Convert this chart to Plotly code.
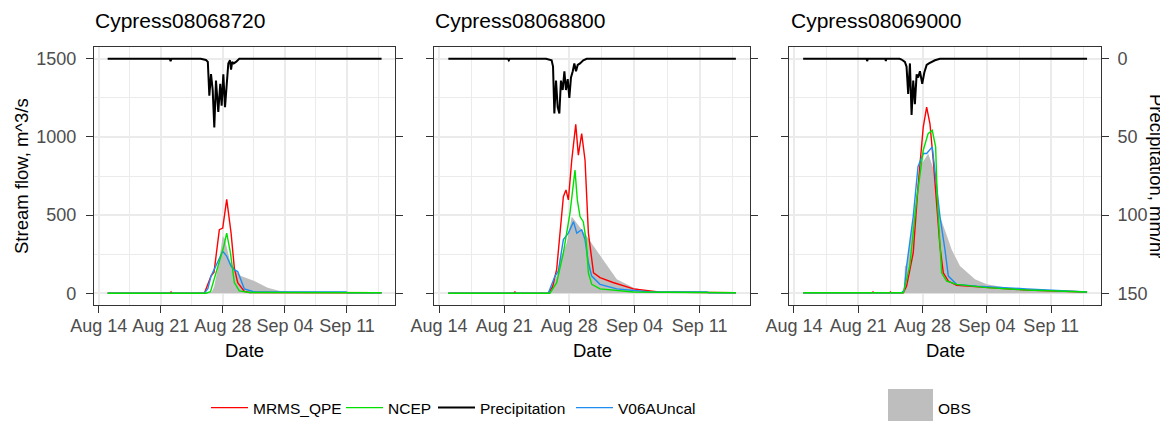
import pandas as pd
import plotly.graph_objects as go

# ---------------- data (days after 2017-08-14 00:00) ----------------
stations = ["Cypress08068720", "Cypress08068800", "Cypress08069000"]
x_tick_dates = ["2017-08-14", "2017-08-21", "2017-08-28", "2017-09-04", "2017-09-11"]
flow_ticks = [0, 500, 1000, 1500]
precip_ticks = [0, 50, 100, 150]

# --- Cypress08068720
obs1_day = [1.0, 12.0, 12.47, 12.75, 13.0, 13.5, 13.83, 13.98, 14.2, 14.42, 14.83, 15.5, 16.04, 17.55, 19.05, 20.55, 22.0, 31.9]
obs1_val = [1, 1, 3, 10, 40, 180, 310, 364, 350, 300, 200, 140, 110, 78, 36, 13, 5, 3]
mrms1_day = [1.0, 8.05, 8.15, 8.25, 11.91, 12.66, 13.0, 13.6, 13.98, 14.43, 14.92, 15.29, 15.67, 16.42, 17.0, 31.9]
mrms1_val = [0, 0, 8, 0, 0, 110, 135, 407, 417, 601, 387, 163, 68, 12, 5, 3]
ncep1_day = [1.0, 12.1, 12.6, 13.03, 13.4, 13.78, 14.1, 14.43, 14.85, 15.29, 15.85, 17.0, 31.9]
ncep1_val = [0, 0, 10, 89, 170, 237, 300, 385, 258, 68, 15, 5, 3]
v06a1_day = [1.0, 11.9, 12.3, 12.66, 13.2, 13.6, 13.98, 14.4, 14.92, 15.3, 15.67, 16.42, 17.55, 27.9, 28.1, 31.9]
v06a1_val = [0, 0, 30, 110, 174, 220, 269, 240, 174, 150, 139, 28, 8, 8, 3, 3]
prcp1_day = [1.0, 8.0, 8.1, 8.2, 11.5, 11.72, 12.09, 12.3, 12.47, 12.66, 12.85, 13.03, 13.22, 13.48, 13.7,
             13.86, 14.05, 14.24, 14.43, 14.61, 14.8, 14.92, 15.05, 15.22, 15.48, 15.85, 31.9]
prcp1_val = [0, 0, 1.5, 0, 0, 0.3, 0.8, 2, 23.6, 9.8, 20, 44, 14, 34, 16,
             30, 10, 31, 14, 3, 1, 7, 2, 3, 2, 0, 0]

# --- Cypress08068800
obs2_day = [1.0, 11.74, 12.64, 13.0, 13.72, 14.26, 15.87, 17.66, 19.1, 20.9, 23.0, 31.9]
obs2_val = [2, 2, 110, 216, 322, 491, 364, 216, 89, 36, 8, 3]
mrms2_day = [1.0, 8.05, 8.15, 8.25, 11.74, 12.2, 12.64, 13.0, 13.36, 13.64, 13.9, 14.26, 14.69, 14.97,
             15.33, 15.69, 16.05, 16.6, 17.3, 18.7, 20.9, 23.6, 31.9]
mrms2_val = [0, 0, 11, 0, 0, 40, 152, 400, 618, 661, 597, 851, 1080, 883,
             1021, 851, 385, 131, 100, 69, 28, 8, 3]
ncep2_day = [1.0, 11.92, 12.64, 13.36, 14.07, 14.36, 14.61, 14.86, 15.15, 15.5, 15.8, 16.05, 16.41, 17.3, 20.9, 31.9]
ncep2_val = [0, 0, 68, 258, 512, 682, 788, 597, 491, 458, 343, 131, 57, 28, 8, 3]
v06a2_day = [1.0, 11.74, 12.46, 12.82, 13.36, 13.9, 14.45, 14.8, 15.33, 15.69, 16.05, 16.41, 17.3, 19.1, 22.7, 28.8, 29.0, 31.9]
v06a2_val = [0, 0, 110, 142, 343, 385, 458, 385, 406, 343, 195, 110, 57, 28, 8, 8, 3, 3]
prcp2_day = [1.0, 7.4, 7.5, 7.6, 11.5, 11.74, 12.1, 12.25, 12.39, 12.57, 12.75, 12.93, 13.1, 13.29, 13.47,
             13.64, 13.83, 14.0, 14.18, 14.37, 14.54, 14.72, 14.9, 15.15, 15.5, 15.87, 31.9]
prcp2_val = [0, 0, 1, 0, 0, 0.5, 1, 5, 35, 14, 31, 35, 14, 20, 8,
             20, 13, 25, 12, 8, 3, 8, 4, 3, 1, 0, 0]

# --- Cypress08069000
obs3_day = [1.0, 11.89, 12.0, 12.07, 12.26, 12.62, 12.98, 13.71, 14.61, 15.34, 15.89, 16.54, 17.16, 18.07,
            19.7, 20.98, 23.2, 27.0, 31.9]
obs3_val = [3, 3, 40, 174, 180, 322, 470, 809, 894, 767, 491, 385, 280, 174,
            89, 57, 36, 20, 8]
mrms3_day = [1.0, 8.5, 8.6, 8.7, 10.4, 10.5, 10.6, 11.9, 12.26, 12.98, 13.5, 14.07, 14.44, 14.8, 15.16,
             15.53, 15.89, 16.25, 16.8, 17.7, 20.98, 25.3, 31.9]
mrms3_val = [3, 3, 8, 3, 3, 8, 3, 3, 46, 258, 682, 1063, 1190, 1084, 851,
             597, 300, 131, 78, 51, 36, 21, 8]
ncep3_day = [1.0, 11.9, 12.6, 13.35, 14.07, 14.6, 15.05, 15.42, 15.6, 15.75, 15.9, 16.07, 16.62, 17.7, 20.98, 25.3, 31.9]
ncep3_val = [3, 3, 174, 597, 915, 1021, 1042, 936, 600, 420, 260, 131, 78, 57, 36, 21, 8]
v06a3_day = [1.0, 11.7, 12.0, 12.26, 12.98, 13.5, 14.07, 14.44, 15.05, 15.53, 15.89, 16.43, 16.8, 17.7, 19.9, 25.3, 31.9]
v06a3_val = [3, 3, 20, 174, 491, 809, 894, 894, 936, 682, 491, 280, 110, 57, 46, 28, 8]
prcp3_day = [1.0, 7.9, 7.96, 8.05, 9.95, 10.0, 10.05, 11.5, 11.71, 12.07, 12.25, 12.43, 12.62, 12.8, 12.98,
             13.16, 13.35, 13.52, 13.71, 13.96, 14.18, 14.44, 14.69, 14.98, 15.34, 15.89, 31.9]
prcp3_val = [0, 0, 1.5, 0, 0, 1.5, 0, 0, 0.5, 2, 5, 22.5, 3, 36, 14,
             29, 10, 12, 8, 16, 9, 4, 3, 2, 1, 0, 0]

# ---------------- helpers ----------------
BASE = pd.Timestamp("2017-08-14")


def to_dt(days):
    return [BASE + pd.Timedelta(days=d) for d in days]


panels = [
    dict(obs=(obs1_day, obs1_val), mrms=(mrms1_day, mrms1_val), ncep=(ncep1_day, ncep1_val),
         v06a=(v06a1_day, v06a1_val), prcp=(prcp1_day, prcp1_val)),
    dict(obs=(obs2_day, obs2_val), mrms=(mrms2_day, mrms2_val), ncep=(ncep2_day, ncep2_val),
         v06a=(v06a2_day, v06a2_val), prcp=(prcp2_day, prcp2_val)),
    dict(obs=(obs3_day, obs3_val), mrms=(mrms3_day, mrms3_val), ncep=(ncep3_day, ncep3_val),
         v06a=(v06a3_day, v06a3_val), prcp=(prcp3_day, prcp3_val)),
]

# page body has an 8px margin, so the figure is 1160x413 and every
# window-pixel position below is shifted by that offset
OFF = 8
W, H = 1168 - OFF, 421 - OFF
FONT = "Liberation Sans, Arial, sans-serif"
panel_px = [(94, 395), (434, 750), (789, 1101)]
TOP, BOTTOM = 47, 305


def fx(p):
    return (p - OFF) / W


def fy(p):
    return 1 - (p - OFF) / H


ydom = [fy(BOTTOM), fy(TOP)]

RED, GREEN, BLUE, BLACK, GREY = "#FF0000", "#00E000", "#1E8CF0", "#000000", "#BEBEBE"

fig = go.Figure()
for i, pdata in enumerate(panels):
    xa = "x" if i == 0 else f"x{i+1}"
    ya = "y" if i == 0 else f"y{i+1}"
    yp = f"y{i+4}"
    first = i == 0
    d, v = pdata["obs"]
    fig.add_trace(go.Scatter(x=to_dt(d), y=v, mode="lines", fill="tozeroy", fillcolor=GREY,
                             line=dict(width=0, color=GREY), name="OBS", legend="legend5",
                             legendgroup="OBS", showlegend=first, xaxis=xa, yaxis=ya))
    d, v = pdata["mrms"]
    fig.add_trace(go.Scatter(x=to_dt(d), y=v, mode="lines", line=dict(color=RED, width=1.4),
                             name="MRMS_QPE", legend="legend", legendgroup="MRMS",
                             showlegend=first, xaxis=xa, yaxis=ya))
    d, v = pdata["v06a"]
    fig.add_trace(go.Scatter(x=to_dt(d), y=v, mode="lines", line=dict(color=BLUE, width=1.4),
                             name="V06AUncal", legend="legend4", legendgroup="V06A",
                             showlegend=first, xaxis=xa, yaxis=ya))
    d, v = pdata["ncep"]
    fig.add_trace(go.Scatter(x=to_dt(d), y=v, mode="lines", line=dict(color=GREEN, width=1.4),
                             name="NCEP", legend="legend2", legendgroup="NCEP",
                             showlegend=first, xaxis=xa, yaxis=ya))
    d, v = pdata["prcp"]
    fig.add_trace(go.Scatter(x=to_dt(d), y=v, mode="lines", line=dict(color=BLACK, width=2),
                             name="Precipitation", legend="legend3", legendgroup="Precip",
                             showlegend=first, xaxis=xa, yaxis=yp))

axis_line = dict(showline=True, linecolor="#333333", linewidth=1.3, mirror=True,
                 ticks="outside", ticklen=7, tickwidth=1.3, tickcolor="#333333",
                 tickfont=dict(family=FONT, size=18, color="#4D4D4D"), automargin=False,
                 showgrid=True, gridcolor="#EBEBEB", gridwidth=1.5, zeroline=False)

layout = dict(width=W, height=H, margin=dict(l=0, r=0, t=0, b=0, autoexpand=False),
              paper_bgcolor="white", plot_bgcolor="white",
              font=dict(family=FONT, color="black"))

xrange = ["2017-08-13 11:00", "2017-09-16 10:00"]
minor_x = ["2017-08-10 12:00", "2017-08-17 12:00", "2017-08-24 12:00", "2017-08-31 12:00",
           "2017-09-07 12:00", "2017-09-14 12:00"]
for i, (l, r) in enumerate(panel_px):
    xname = "xaxis" if i == 0 else f"xaxis{i+1}"
    yname = "yaxis" if i == 0 else f"yaxis{i+1}"
    pname = f"yaxis{i+4}"
    ya = "y" if i == 0 else f"y{i+1}"
    xa = "x" if i == 0 else f"x{i+1}"
    layout[xname] = dict(axis_line, domain=[fx(l), fx(r)], anchor=ya, type="date", range=xrange,
                         tickmode="array", tickvals=x_tick_dates, tickformat="%b %d",
                         ticklabelstandoff=-3,
                         minor=dict(tickmode="array", tickvals=minor_x, showgrid=True,
                                    gridcolor="#EBEBEB", gridwidth=0.8, ticks=""))
    layout[yname] = dict(axis_line, domain=ydom, anchor=xa, range=[-75, 1575],
                         tickmode="array", tickvals=flow_ticks, showticklabels=(i == 0),
                         ticklabelstandoff=6,
                         minor=dict(tickmode="array", tickvals=[250, 750, 1250], showgrid=True,
                                    gridcolor="#EBEBEB", gridwidth=0.8, ticks=""))
    layout[pname] = dict(overlaying=ya, anchor=xa, side="right", range=[157.5, -7.5],
                         tickmode="array", tickvals=precip_ticks, showgrid=False, zeroline=False,
                         showline=False, ticks="outside", ticklen=7, tickwidth=1.3, automargin=False,
                         tickcolor="#333333", showticklabels=(i == 2), ticklabelstandoff=5,
                         tickfont=dict(family=FONT, size=18, color="#4D4D4D"))

# legends: one per key, placed along the bottom like the ggplot guide
leg_common = dict(orientation="h", yanchor="middle", xanchor="left", bgcolor="rgba(0,0,0,0)",
                  font=dict(family=FONT, size=15.5, color="black"), borderwidth=0, itemwidth=37,
                  itemclick=False, itemdoubleclick=False)
leg_y = fy(408)
layout["legend"] = dict(leg_common, x=fx(206), y=leg_y)
layout["legend2"] = dict(leg_common, x=fx(341), y=leg_y)
layout["legend3"] = dict(leg_common, x=fx(433), y=leg_y)
layout["legend4"] = dict(leg_common, x=fx(571), y=leg_y)
layout["legend5"] = dict(leg_common, x=fx(891), y=leg_y)

ann = []
title_x = [93, 433, 789]
for i, name in enumerate(stations):
    ann.append(dict(text=name, x=fx(title_x[i]), y=fy(21), xref="paper", yref="paper",
                    xanchor="left", yanchor="middle", showarrow=False,
                    font=dict(family=FONT, size=21, color="black")))
    l, r = panel_px[i]
    ann.append(dict(text="Date", x=fx((l + r) / 2), y=fy(350), xref="paper", yref="paper",
                    xanchor="center", yanchor="middle", showarrow=False,
                    font=dict(family=FONT, size=18.5, color="black")))
ann.append(dict(text="Stream flow, m^3/s", x=fx(21), y=fy((TOP + BOTTOM) / 2), xref="paper",
                yref="paper", textangle=-90, xanchor="center", yanchor="middle", showarrow=False,
                font=dict(family=FONT, size=18.5, color="black")))
ann.append(dict(text="Precipitation, mm/hr", x=fx(1157), y=fy((TOP + BOTTOM) / 2), xref="paper",
                yref="paper", textangle=90, xanchor="center", yanchor="middle", showarrow=False,
                font=dict(family=FONT, size=18.5, color="black")))
layout["annotations"] = ann

# big grey key for the OBS fill guide
layout["shapes"] = [dict(type="rect", xref="paper", yref="paper", x0=fx(888), x1=fx(933),
                         y0=fy(421), y1=fy(389), fillcolor=GREY, line=dict(width=0), layer="below")]

fig.update_layout(**layout)
fig.write_html("out.html")
